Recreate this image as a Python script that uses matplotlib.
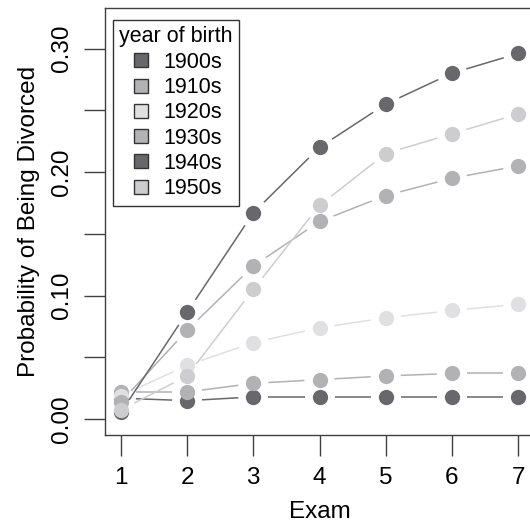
import numpy as np
import matplotlib.pyplot as plt
from matplotlib.lines import Line2D

plt.rcParams['font.family'] = ['Liberation Sans', 'DejaVu Sans']

# exam number
exam = [1, 2, 3, 4, 5, 6, 7]
# birth cohorts
cohorts = ['1900s', '1910s', '1920s', '1930s', '1940s', '1950s']
# probability of being divorced
p1900 = [0.017, 0.015, 0.018, 0.018, 0.018, 0.018, 0.018]
p1910 = [0.022, 0.022, 0.029, 0.032, 0.035, 0.037, 0.037]
p1920 = [0.019, 0.0435, 0.062, 0.074, 0.082, 0.088, 0.093]
p1930 = [0.014, 0.072, 0.124, 0.160, 0.181, 0.195, 0.205]
p1940 = [0.0055, 0.0865, 0.167, 0.220, 0.255, 0.280, 0.296]
p1950 = [0.0075, 0.035, 0.105, 0.173, 0.215, 0.231, 0.247]
series = [p1900, p1910, p1920, p1930, p1940, p1950]
colors = ['#68686c', '#b2b2b4', '#e0e0e2', '#b2b2b4', '#68686c', '#cdcdcf']

fig = plt.figure(figsize=(5.3, 5.27), dpi=100)
ax = fig.add_axes([105/530, 92/527, (534-105)/530, (519-92)/527])
ax.set_xlim(0.76, 7.24)
ax.set_ylim(-0.0128, 0.3328)

# type="b" style: segments stop short of the points
gap = 15
inv = ax.transData.inverted()
for y, c in zip(series, colors):
    pts = ax.transData.transform(np.column_stack([exam, y]))
    for p0, p1 in zip(pts[:-1], pts[1:]):
        d = p1 - p0
        L = np.hypot(d[0], d[1])
        if L <= 2*gap:
            continue
        u = d/L
        seg = inv.transform(np.array([p0 + u*gap, p1 - u*gap]))
        ax.plot(seg[:, 0], seg[:, 1], color=c, lw=1.1, solid_capstyle='butt')
    ax.plot(exam, y, 'o', color=c, ms=11, mec='none')

for s in ax.spines.values():
    s.set_color('#404040')
    s.set_linewidth(1)

ax.set_xticks(exam)
yt = np.arange(0, 0.31, 0.05)
ax.set_yticks(yt)
ax.set_yticklabels(['%.2f' % v if i % 2 == 0 else '' for i, v in enumerate(yt)],
                   rotation=90, va='center')
ax.tick_params(axis='both', length=15, width=1, color='#404040', labelsize=17.5, pad=8)
ax.set_xlabel('Exam', fontsize=17.5, labelpad=9)
ax.set_ylabel('Probability of Being Divorced', fontsize=17.5, labelpad=8)

handles = [Line2D([], [], marker='s', ls='none', ms=9.5, mfc=c, mec='#333333', mew=1)
           for c in colors]
leg = ax.legend(handles, cohorts, title='year of birth', loc='upper left',
                bbox_to_anchor=(113/530, 1-20/527), bbox_transform=fig.transFigure,
                borderaxespad=0, fancybox=False, fontsize=15.5, title_fontsize=15.5,
                labelspacing=0.2, handlelength=1, handletextpad=0.55,
                borderpad=0.3, framealpha=1, edgecolor='#333333')
leg.get_frame().set_linewidth(1)

fig.savefig('out.png', dpi=100)
